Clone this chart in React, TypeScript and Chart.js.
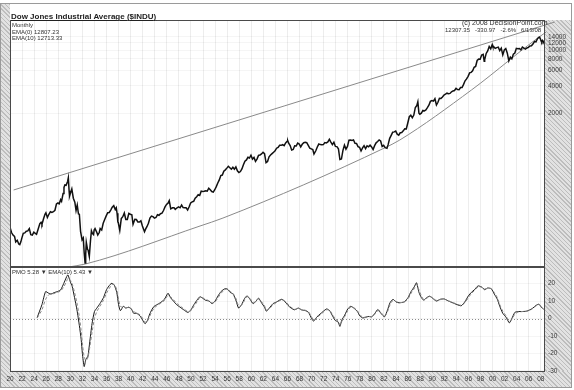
import React, { useEffect, useRef } from "react";
import { Chart, registerables } from "chart.js";

Chart.register(...registerables);

// ---------------- DATA ----------------
// Dow Jones Industrial Average, month-end closes (decimal year, index value)
const djia: [number, number][] = [
  [1920.0, 108], [1920.25, 94], [1920.5, 88], [1920.75, 85], [1920.95, 74],
  [1921.2, 77], [1921.45, 70], [1921.62, 69], [1921.8, 74], [1921.95, 81],
  [1922.2, 92], [1922.45, 93], [1922.7, 97], [1922.95, 98],
  [1923.2, 104], [1923.45, 89], [1923.7, 88], [1923.95, 95],
  [1924.2, 92], [1924.4, 90], [1924.7, 104], [1924.95, 118],
  [1925.15, 122], [1925.3, 116], [1925.55, 133], [1925.8, 150], [1925.95, 156],
  [1926.2, 138], [1926.45, 150], [1926.7, 160], [1926.95, 157],
  [1927.2, 160], [1927.45, 166], [1927.7, 195], [1927.95, 200],
  [1928.15, 196], [1928.4, 218], [1928.55, 209], [1928.8, 255], [1928.95, 298],
  [1929.1, 318], [1929.3, 315], [1929.55, 347], [1929.67, 381], [1929.8, 273], [1929.87, 238], [1929.95, 248],
  [1930.25, 286], [1930.5, 226], [1930.75, 204], [1930.95, 165],
  [1931.15, 190], [1931.35, 151], [1931.5, 150], [1931.7, 97], [1931.95, 78],
  [1932.15, 82], [1932.3, 56], [1932.45, 43], [1932.55, 54], [1932.65, 73], [1932.85, 61], [1932.95, 60],
  [1933.15, 51], [1933.35, 77], [1933.5, 98], [1933.65, 92], [1933.85, 89], [1933.95, 100],
  [1934.1, 104], [1934.4, 94], [1934.55, 88], [1934.8, 94], [1934.95, 104],
  [1935.2, 100], [1935.45, 119], [1935.7, 131], [1935.95, 144],
  [1936.2, 156], [1936.45, 157], [1936.7, 167], [1936.95, 180],
  [1937.2, 187], [1937.45, 169], [1937.62, 177], [1937.75, 154], [1937.88, 123], [1937.95, 121],
  [1938.2, 99], [1938.45, 134], [1938.7, 141], [1938.95, 155],
  [1939.2, 131], [1939.45, 131], [1939.7, 153], [1939.95, 150],
  [1940.2, 148], [1940.4, 116], [1940.7, 132], [1940.95, 131],
  [1941.2, 123], [1941.45, 123], [1941.7, 127], [1941.95, 111],
  [1942.3, 96], [1942.5, 103], [1942.7, 109], [1942.95, 119],
  [1943.2, 136], [1943.45, 143], [1943.7, 141], [1943.95, 136],
  [1944.2, 138], [1944.45, 148], [1944.7, 146], [1944.95, 152],
  [1945.2, 154], [1945.45, 165], [1945.7, 181], [1945.95, 193],
  [1946.2, 199], [1946.4, 212], [1946.65, 172], [1946.95, 177],
  [1947.2, 177], [1947.4, 170], [1947.7, 177], [1947.95, 181],
  [1948.2, 177], [1948.45, 190], [1948.7, 178], [1948.95, 177],
  [1949.2, 177], [1949.45, 167], [1949.7, 182], [1949.95, 200],
  [1950.2, 206], [1950.45, 209], [1950.7, 226], [1950.95, 235],
  [1951.2, 248], [1951.45, 243], [1951.7, 271], [1951.95, 269],
  [1952.2, 270], [1952.45, 274], [1952.7, 271], [1952.95, 292],
  [1953.2, 280], [1953.45, 268], [1953.7, 264], [1953.95, 281],
  [1954.2, 304], [1954.45, 334], [1954.7, 361], [1954.95, 404],
  [1955.2, 409], [1955.45, 451], [1955.7, 467], [1955.95, 488],
  [1956.2, 512], [1956.45, 493], [1956.7, 475], [1956.95, 500],
  [1957.2, 475], [1957.45, 503], [1957.7, 456], [1957.95, 436],
  [1958.2, 447], [1958.45, 478], [1958.7, 532], [1958.95, 584],
  [1959.2, 602], [1959.45, 644], [1959.7, 632], [1959.95, 679],
  [1960.2, 616], [1960.45, 641], [1960.7, 580], [1960.95, 616],
  [1961.2, 676], [1961.45, 684], [1961.7, 701], [1961.95, 731],
  [1962.2, 707], [1962.45, 561], [1962.7, 579], [1962.95, 652],
  [1963.2, 682], [1963.45, 707], [1963.7, 733], [1963.95, 763],
  [1964.2, 813], [1964.45, 831], [1964.7, 875], [1964.95, 874],
  [1965.2, 889], [1965.45, 868], [1965.7, 931], [1965.95, 969],
  [1966.05, 984], [1966.2, 924], [1966.45, 870], [1966.7, 774], [1966.95, 786],
  [1967.2, 865], [1967.45, 860], [1967.7, 927], [1967.95, 905],
  [1968.2, 840], [1968.45, 898], [1968.7, 936], [1968.95, 944],
  [1969.2, 936], [1969.45, 873], [1969.7, 813], [1969.95, 800],
  [1970.2, 786], [1970.4, 700], [1970.7, 761], [1970.95, 839],
  [1971.2, 904], [1971.45, 891], [1971.7, 887], [1971.95, 890],
  [1972.2, 940], [1972.45, 929], [1972.7, 953], [1972.95, 1020],
  [1973.2, 951], [1973.45, 891], [1973.7, 947], [1973.95, 851],
  [1974.2, 847], [1974.45, 802], [1974.7, 608], [1974.95, 616],
  [1975.2, 768], [1975.45, 879], [1975.7, 794], [1975.95, 852],
  [1976.2, 999], [1976.45, 1003], [1976.7, 990], [1976.95, 1005],
  [1977.2, 919], [1977.45, 916], [1977.7, 847], [1977.95, 831],
  [1978.2, 757], [1978.45, 819], [1978.7, 866], [1978.95, 805],
  [1979.2, 862], [1979.45, 842], [1979.7, 878], [1979.95, 839],
  [1980.2, 786], [1980.45, 868], [1980.7, 932], [1980.95, 964],
  [1981.2, 1004], [1981.45, 977], [1981.7, 850], [1981.95, 875],
  [1982.2, 823], [1982.5, 809], [1982.7, 896], [1982.95, 1047],
  [1983.2, 1130], [1983.45, 1222], [1983.7, 1233], [1983.95, 1259],
  [1984.2, 1165], [1984.45, 1133], [1984.7, 1207], [1984.95, 1212],
  [1985.2, 1267], [1985.45, 1336], [1985.7, 1329], [1985.95, 1547],
  [1986.2, 1819], [1986.45, 1893], [1986.7, 1768], [1986.95, 1896],
  [1987.2, 2305], [1987.45, 2419], [1987.62, 2663], [1987.8, 1994], [1987.95, 1939],
  [1988.2, 1989], [1988.45, 2142], [1988.7, 2113], [1988.95, 2169],
  [1989.2, 2294], [1989.45, 2440], [1989.7, 2693], [1989.95, 2753],
  [1990.2, 2707], [1990.45, 2881], [1990.7, 2453], [1990.95, 2634],
  [1991.2, 2914], [1991.45, 2907], [1991.7, 3017], [1991.95, 3169],
  [1992.2, 3236], [1992.45, 3319], [1992.7, 3272], [1992.95, 3301],
  [1993.2, 3436], [1993.45, 3516], [1993.7, 3555], [1993.95, 3754],
  [1994.2, 3636], [1994.45, 3625], [1994.7, 3843], [1994.95, 3834],
  [1995.2, 4158], [1995.45, 4556], [1995.7, 4789], [1995.95, 5117],
  [1996.2, 5587], [1996.45, 5655], [1996.7, 5882], [1996.95, 6448],
  [1997.2, 6584], [1997.45, 7673], [1997.7, 7945], [1997.95, 7908],
  [1998.2, 8800], [1998.45, 8952], [1998.62, 7539], [1998.7, 7843], [1998.95, 9181],
  [1999.2, 9786], [1999.45, 10971], [1999.7, 10337], [1999.95, 11497],
  [2000.05, 10940], [2000.2, 10922], [2000.45, 10448], [2000.7, 10651], [2000.95, 10788],
  [2001.2, 9879], [2001.45, 10502], [2001.7, 8848], [2001.95, 10022],
  [2002.2, 10404], [2002.45, 9243], [2002.7, 7592], [2002.95, 8342],
  [2003.2, 7992], [2003.45, 8985], [2003.7, 9275], [2003.95, 10454],
  [2004.2, 10358], [2004.45, 10435], [2004.7, 10080], [2004.95, 10783],
  [2005.2, 10504], [2005.45, 10275], [2005.7, 10569], [2005.95, 10718],
  [2006.2, 11109], [2006.45, 11150], [2006.7, 11679], [2006.95, 12463],
  [2007.2, 12354], [2007.45, 13409], [2007.7, 13896], [2007.8, 13930], [2007.95, 13265],
  [2008.05, 12650], [2008.15, 12266], [2008.2, 12263], [2008.3, 12820], [2008.37, 12638], [2008.45, 12307],
];

// Trend lines drawn on the price panel
const upperTrendYears = [1920.6, 2010.3];
const upperTrendValues = [279, 20500];
const lowerTrendYears = [1929.7, 1932.5, 1951.5, 1955.3, 1982.1, 1984.6, 1996.5, 2008.9, 2011.6];
const lowerTrendValues = [38.9, 42, 111, 136, 818, 1000, 3600, 15900, 20500];

// PMO and its EMA(10) signal
const pmoYears = [
  1924.5, 1925.3, 1925.9, 1926.4, 1926.8, 1927.3, 1927.9, 1928.4, 1928.9, 1929.4, 1929.6, 1930.0, 1930.3, 1930.7,
  1931.1, 1931.5, 1931.8, 1932.0, 1932.3, 1932.6, 1932.9, 1933.2, 1933.6, 1934.0, 1934.4, 1934.9, 1935.5, 1936.0,
  1936.6, 1936.9, 1937.3, 1937.7, 1938.0, 1938.3, 1938.8, 1939.2, 1939.7, 1940.2, 1940.5, 1941.0, 1941.6, 1942.0,
  1942.4, 1942.8, 1943.1, 1943.5, 1943.9, 1944.4, 1944.9, 1945.6, 1946.2, 1946.6, 1947.1, 1947.6, 1948.2, 1948.8,
  1949.5, 1950.0, 1950.5, 1951.1, 1951.5, 1952.0, 1952.4, 1953.0, 1953.5, 1954.0, 1954.5, 1955.0, 1955.6, 1956.0,
  1956.5, 1957.0, 1957.5, 1957.9, 1958.4, 1958.9, 1959.3, 1959.8, 1960.3, 1960.8, 1961.2, 1961.7, 1962.2, 1962.5,
  1963.0, 1963.6, 1964.2, 1965.0, 1965.5, 1966.1, 1966.6, 1967.2, 1967.8, 1968.3, 1969.0, 1969.5, 1970.0, 1970.35,
  1970.9, 1971.4, 1971.9, 1972.5, 1973.0, 1973.4, 1973.9, 1974.4, 1974.7, 1975.0, 1975.5, 1976.0, 1976.5, 1977.0,
  1977.6, 1978.0, 1978.5, 1979.0, 1979.5, 1980.0, 1980.5, 1981.0, 1981.5, 1982.1, 1982.6, 1983.0, 1983.5, 1984.0,
  1984.5, 1985.0, 1985.4, 1986.0, 1986.5, 1987.0, 1987.4, 1987.8, 1988.2, 1988.6, 1989.1, 1989.6, 1990.1, 1990.7,
  1991.3, 1992.0, 1992.7, 1993.4, 1994.1, 1994.8, 1995.4, 1996.0, 1996.5, 1997.0, 1997.6, 1998.2, 1998.7, 1999.2,
  1999.8, 2000.3, 2000.8, 2001.2, 2001.7, 2002.2, 2002.8, 2003.2, 2003.7, 2004.2, 2004.9, 2005.6, 2006.2, 2006.7,
  2007.2, 2007.7, 2008.1, 2008.45,
];
const pmoValues = [
  0.5, 8, 15.4, 14.5, 14, 14.8, 15.5, 16.4, 20, 24, 25, 21, 18.5, 12,
  5, -4, -12, -20, -27.5, -23, -22, -14, -3, 4, 6, 8.5, 12, 16.5,
  19.5, 20.2, 19, 15, 8, 4.5, 7, 6, 6.5, 5, 3, 3, 1.3, -1,
  -3, -1, 2, 5, 7, 8, 9, 11, 14.5, 12, 10, 8, 6.5, 5,
  3.5, 5, 8, 11, 12.5, 11.5, 10.5, 10, 8.5, 10, 13, 15.5, 17, 17,
  15, 14, 10, 6, 8, 11.5, 13, 11, 8.5, 10, 11.7, 9, 6.5, 4.2,
  6, 8.5, 9.5, 11, 10, 7.5, 6, 5, 6, 5, 4.5, 3.5, 0, -1.5,
  1, 2.5, 4, 5.5, 4.5, 2, -1, -2, -4.5, -1, 2, 5.5, 7, 6,
  4, 1.5, 0.3, 0.8, 1.2, 1, 3, 5.2, 3, 1, 5, 9, 11, 9.5,
  9, 9.2, 9.6, 12, 15.5, 18, 20.5, 15, 12, 10.5, 12, 12.8, 11.5, 10,
  11, 11.2, 10, 9, 8, 7.3, 9.5, 13, 15, 16.5, 18.7, 18, 16.5, 17.5,
  17, 14, 11, 7, 3, 1, -2.5, 0, 3.5, 4, 4, 4.2, 5, 6,
  7.5, 8.2, 6.5, 5.3,
];
const signalValues = [
  0.3, 5, 11, 13.5, 14, 14.3, 15, 15.8, 18, 21.5, 23, 22, 20, 15,
  9, 1, -7, -14, -22, -24, -22.5, -17, -8, 0, 4, 7, 10.5, 14.5,
  18, 19.5, 19.5, 16.5, 11, 7, 6.5, 6.2, 6.3, 5.5, 4, 3.2, 2, 0,
  -2, -1.5, 0.8, 3.8, 6, 7.5, 8.6, 10.3, 13.2, 12.5, 10.8, 8.8, 7.2, 5.6,
  4, 4.5, 7, 10, 12, 11.8, 11, 10.2, 9, 9.5, 12, 14.5, 16.5, 17,
  15.6, 14.3, 11.2, 7.5, 7.7, 10.5, 12.5, 11.5, 9.3, 9.8, 11.2, 9.6, 7.3, 5,
  5.6, 7.8, 9.2, 10.6, 10.2, 8.2, 6.5, 5.3, 5.8, 5.2, 4.7, 3.8, 1, -0.8,
  0.5, 2, 3.5, 5, 4.7, 2.6, 0, -1.5, -3.5, -1.8, 1.2, 4.5, 6.5, 6.2,
  4.5, 2.2, 0.8, 0.8, 1.1, 1, 2.5, 4.5, 3.4, 1.5, 4, 7.8, 10.4, 9.8,
  9.2, 9.2, 9.5, 11.3, 14.5, 17, 19.5, 16.5, 13, 11, 11.7, 12.5, 11.8, 10.4,
  10.8, 11, 10.2, 9.2, 8.3, 7.6, 9, 12, 14.3, 16, 18, 18, 17, 17.3,
  17.1, 14.8, 12, 8, 4.2, 1.8, -1.5, -0.5, 2.5, 3.6, 4, 4.1, 4.8, 5.8,
  7.2, 8, 6.9, 5.4,
];

// Axis ticks
const xTickYears = [
  1920, 1922, 1924, 1926, 1928, 1930, 1932, 1934, 1936, 1938, 1940, 1942, 1944, 1946, 1948,
  1950, 1952, 1954, 1956, 1958, 1960, 1962, 1964, 1966, 1968, 1970, 1972, 1974, 1976, 1978,
  1980, 1982, 1984, 1986, 1988, 1990, 1992, 1994, 1996, 1998, 2000, 2002, 2004, 2006, 2008,
];
const priceTicks = [2000, 4000, 6000, 8000, 10000, 12000, 14000];
const pmoTicks = [-30, -20, -10, 0, 10, 20];

// ---------------- LAYOUT / STYLE ----------------
const FONT = "'Liberation Sans', Arial, sans-serif";
const X_MIN = 1920;
const X_MAX = 2008.7;
const PRICE_MIN = 38.9;
const PRICE_MAX = 21600;
const PMO_MIN = -30.6;
const PMO_MAX = 29.5;

const frameBorder = {
  id: "frameBorder",
  beforeDraw(chart: any) {
    const { ctx, chartArea: a } = chart;
    ctx.save();
    ctx.fillStyle = "#ffffff";
    ctx.fillRect(a.left, a.top, a.right - a.left, a.bottom - a.top);
    ctx.restore();
  },
  afterDraw(chart: any) {
    const { ctx, chartArea: a } = chart;
    ctx.save();
    ctx.strokeStyle = "#4a4a4a";
    ctx.lineWidth = 1;
    ctx.strokeRect(Math.round(a.left) + 0.5, Math.round(a.top) + 0.5, Math.round(a.right - a.left) - 1, Math.round(a.bottom - a.top) - 1);
    ctx.restore();
  },
};

const zeroLine = {
  id: "zeroLine",
  beforeDatasetsDraw(chart: any) {
    const { ctx, chartArea: a, scales } = chart;
    const y = Math.round(scales.y.getPixelForValue(0)) + 0.5;
    ctx.save();
    ctx.strokeStyle = "#8c8c8c";
    ctx.setLineDash([1, 2]);
    ctx.lineWidth = 1;
    ctx.beginPath();
    ctx.moveTo(a.left, y);
    ctx.lineTo(a.right, y);
    ctx.stroke();
    ctx.restore();
  },
};

const hatch = "repeating-linear-gradient(45deg, #bdbdbd 0px, #bdbdbd 1px, #e2e2e2 1px, #e2e2e2 3px)";

const fitRightAxis = (s: any) => {
  s.width = 27;
  s.paddingTop = 0;
  s.paddingBottom = 0;
};

export default function App() {
  const priceRef = useRef<HTMLCanvasElement>(null);
  const pmoRef = useRef<HTMLCanvasElement>(null);

  useEffect(() => {
    const tickFont = { family: FONT, size: 6.5 };
    const priceChart = new Chart(priceRef.current as HTMLCanvasElement, {
      type: "line",
      data: {
        datasets: [
          {
            data: djia.map(([x, y]) => ({ x, y })),
            borderColor: "#111111",
            borderWidth: 1.5,
            pointRadius: 0,
            tension: 0,
          },
          {
            data: upperTrendYears.map((x, i) => ({ x, y: upperTrendValues[i] })),
            borderColor: "#8a8a8a",
            borderWidth: 1,
            pointRadius: 0,
            clip: false,
          },
          {
            data: lowerTrendYears.map((x, i) => ({ x, y: lowerTrendValues[i] })),
            borderColor: "#8a8a8a",
            borderWidth: 1,
            pointRadius: 0,
            cubicInterpolationMode: "monotone",
            clip: false,
          },
        ] as any,
      },
      options: {
        animation: false,
        responsive: false,
        maintainAspectRatio: false,
        events: [],
        layout: { padding: { left: 10, top: 20, right: 2, bottom: 0 } },
        plugins: { legend: { display: false }, tooltip: { enabled: false } },
        scales: {
          x: {
            type: "linear",
            min: X_MIN,
            max: X_MAX,
            afterBuildTicks: (s: any) => {
              s.ticks = xTickYears.map((v) => ({ value: v }));
            },
            afterFit: (s: any) => {
              s.height = 0;
              s.paddingLeft = 0;
              s.paddingRight = 0;
            },
            ticks: { display: false },
            grid: { color: "rgba(0,0,0,0.07)", drawTicks: false },
            border: { display: false },
          },
          y: {
            type: "logarithmic",
            position: "right",
            min: PRICE_MIN,
            max: PRICE_MAX,
            afterBuildTicks: (s: any) => {
              s.ticks = priceTicks.map((v) => ({ value: v }));
            },
            afterFit: fitRightAxis,
            ticks: {
              font: tickFont,
              color: "#3a3a3a",
              padding: 3,
              callback: (v: any) => String(v),
            },
            grid: { color: "rgba(0,0,0,0.04)", drawTicks: false },
            border: { display: false },
          },
        },
      } as any,
      plugins: [frameBorder],
    });

    const pmoChart = new Chart(pmoRef.current as HTMLCanvasElement, {
      type: "line",
      data: {
        datasets: [
          {
            data: pmoYears.map((x, i) => ({ x, y: signalValues[i] })),
            borderColor: "#8a8a8a",
            borderWidth: 1,
            borderDash: [3, 2],
            pointRadius: 0,
            tension: 0.3,
          },
          {
            data: pmoYears.map((x, i) => ({ x, y: pmoValues[i] })),
            borderColor: "#1a1a1a",
            borderWidth: 1,
            pointRadius: 0,
            tension: 0.2,
          },
        ] as any,
      },
      options: {
        animation: false,
        responsive: false,
        maintainAspectRatio: false,
        events: [],
        layout: { padding: { left: 10, top: 1, right: 2, bottom: 2 } },
        plugins: { legend: { display: false }, tooltip: { enabled: false } },
        scales: {
          x: {
            type: "linear",
            min: X_MIN,
            max: X_MAX,
            afterBuildTicks: (s: any) => {
              s.ticks = xTickYears.map((v) => ({ value: v }));
            },
            afterFit: (s: any) => {
              s.height = 15;
              s.paddingLeft = 0;
              s.paddingRight = 0;
            },
            ticks: {
              font: tickFont,
              color: "#333333",
              padding: 3,
              maxRotation: 0,
              autoSkip: false,
              callback: (v: any) => String(Number(v) % 100).padStart(2, "0"),
            },
            grid: { color: "rgba(0,0,0,0.07)", drawTicks: false },
            border: { display: false },
          },
          y: {
            type: "linear",
            position: "right",
            min: PMO_MIN,
            max: PMO_MAX,
            afterBuildTicks: (s: any) => {
              s.ticks = pmoTicks.map((v) => ({ value: v }));
            },
            afterFit: fitRightAxis,
            ticks: {
              font: tickFont,
              color: "#3a3a3a",
              padding: 3,
              callback: (v: any) => String(v),
            },
            grid: { color: "rgba(0,0,0,0.04)", drawTicks: false },
            border: { display: false },
          },
        },
      } as any,
      plugins: [frameBorder, zeroLine],
    });

    return () => {
      priceChart.destroy();
      pmoChart.destroy();
    };
  }, []);

  const small: React.CSSProperties = {
    position: "absolute",
    fontFamily: FONT,
    fontSize: 6,
    lineHeight: "6px",
    color: "#333",
    whiteSpace: "pre",
  };

  return (
    <div style={{ position: "fixed", left: 0, top: 0, width: 574, height: 390, background: "#ffffff", overflow: "hidden" }}>
      {/* outer frame */}
      <div style={{ position: "absolute", left: 0, top: 3, width: 572, height: 385, border: "1px solid #9a9a9a", boxSizing: "border-box" }} />
      <div style={{ position: "absolute", left: 1, top: 4, width: 9, height: 383, background: hatch }} />
      <div style={{ position: "absolute", left: 545, top: 20, width: 26, height: 367, background: hatch }} />
      <div style={{ position: "absolute", left: 1, top: 371, width: 570, height: 16, background: hatch }} />

      <canvas ref={priceRef} width={574} height={267} style={{ position: "absolute", left: 0, top: 0 }} />
      <canvas ref={pmoRef} width={574} height={123} style={{ position: "absolute", left: 0, top: 266 }} />

      {/* texts */}
      <div
        style={{
          position: "absolute",
          left: 11,
          top: 12,
          fontFamily: FONT,
          fontWeight: "bold",
          fontSize: 8,
          lineHeight: "9px",
          color: "#222",
          textDecoration: "underline",
          whiteSpace: "pre",
        }}
      >
        Dow Jones Industrial Average ($INDU)
      </div>
      <div style={{ ...small, left: 12, top: 22 }}>Monthly</div>
      <div style={{ ...small, left: 12, top: 29 }}>EMA(0) 12807.23</div>
      <div style={{ ...small, left: 12, top: 35 }}>EMA(10) 12713.33</div>
      <div style={{ ...small, left: 462, top: 19, fontSize: 7, lineHeight: "7px" }}>(c) 2008 DecisionPoint.com</div>
      <div style={{ ...small, left: 445, top: 27 }}>12307.35   -330.97   -2.6%   6/13/08</div>
      <div style={{ ...small, left: 12, top: 269 }}>PMO 5.28 ▼ EMA(10) 5.43 ▼</div>
    </div>
  );
}
